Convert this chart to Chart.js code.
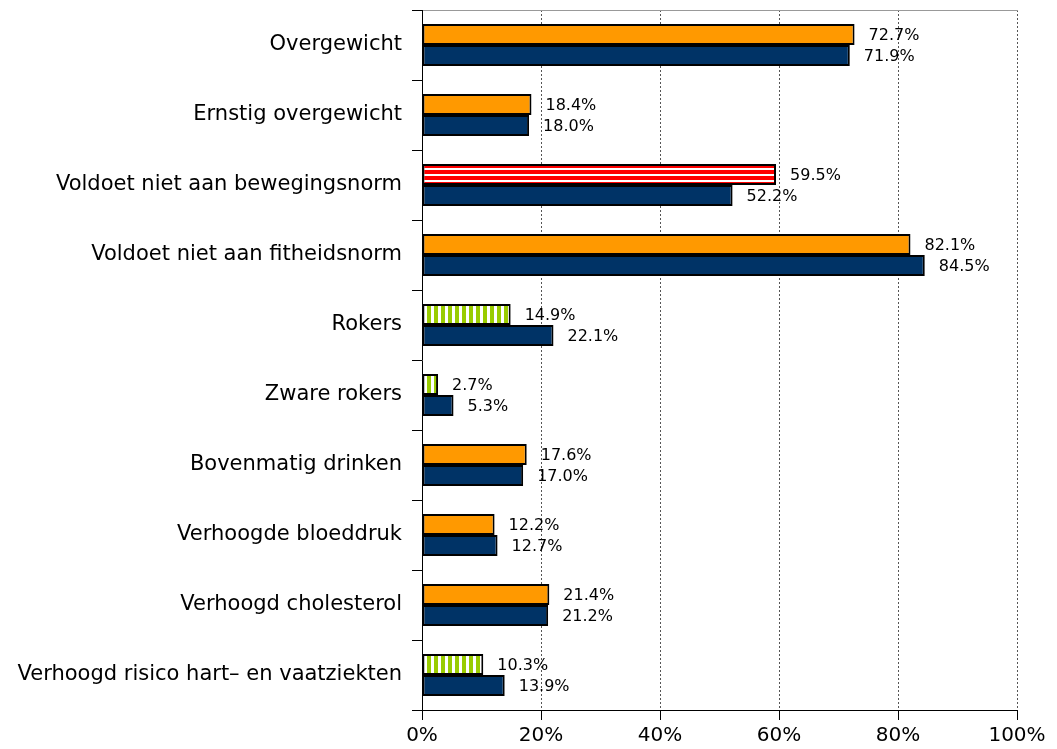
<!DOCTYPE html>
<html>
<head>
<meta charset="utf-8">
<script src="https://cdn.jsdelivr.net/npm/chart.js@4/dist/chart.umd.min.js"></script>
<style>
  html, body { margin: 0; padding: 0; background: #fff; }
  #wrap { width: 1057px; height: 749px; }
</style>
</head>
<body>
<div id="wrap"><canvas id="chart" width="1057" height="749"></canvas></div>
<script>
// Categories and values
var categories = [
  'Overgewicht',
  'Ernstig overgewicht',
  'Voldoet niet aan bewegingsnorm',
  'Voldoet niet aan fitheidsnorm',
  'Rokers',
  'Zware rokers',
  'Bovenmatig drinken',
  'Verhoogde bloeddruk',
  'Verhoogd cholesterol',
  'Verhoogd risico hart\u2013 en vaatziekten'
];
var topValues = [72.7, 18.4, 59.5, 82.1, 14.9, 2.7, 17.6, 12.2, 21.4, 10.3];
var bottomValues = [71.9, 18.0, 52.2, 84.5, 22.1, 5.3, 17.0, 12.7, 21.2, 13.9];
// fill style per top bar: 'plain', 'red' (horizontal stripes), 'green' (vertical stripes)
var topFills = ['plain', 'plain', 'red', 'plain', 'green', 'green', 'plain', 'plain', 'plain', 'green'];
var xTicks = [0, 20, 40, 60, 80, 100];

var FONT = 'Tahoma, "DejaVu Sans", sans-serif';

// Striped fills
function makePattern(w, h, draw) {
  var c = document.createElement('canvas');
  c.width = w; c.height = h;
  var g = c.getContext('2d');
  g.fillStyle = '#ffffff';
  g.fillRect(0, 0, w, h);
  draw(g);
  return document.getElementById('chart').getContext('2d').createPattern(c, 'repeat');
}
var redStripes = makePattern(6, 6, function (g) {
  g.fillStyle = '#ff0000';
  g.fillRect(0, 2, 6, 4);
});
var greenStripes = makePattern(7, 7, function (g) {
  g.fillStyle = '#99cc00';
  g.fillRect(0, 0, 4, 7);
});

var topColors = topFills.map(function (f) {
  if (f === 'red') return redStripes;
  if (f === 'green') return greenStripes;
  return '#ff9900';
});

// Value labels to the right of each bar
var valueLabels = {
  id: 'valueLabels',
  afterDatasetsDraw: function (chart) {
    var ctx = chart.ctx;
    ctx.save();
    ctx.font = '16px ' + FONT;
    ctx.fillStyle = '#000';
    ctx.textBaseline = 'middle';
    ctx.textAlign = 'left';
    chart.data.datasets.forEach(function (ds, i) {
      var meta = chart.getDatasetMeta(i);
      meta.data.forEach(function (bar, j) {
        ctx.fillText(ds.data[j].toFixed(1) + '%', bar.x + 14, bar.y + 1);
      });
    });
    ctx.restore();
  }
};

new Chart(document.getElementById('chart'), {
  type: 'bar',
  data: {
    labels: categories,
    datasets: [{
      data: topValues,
      backgroundColor: topColors,
      borderColor: '#000',
      borderWidth: 2,
      borderSkipped: false
    }, {
      data: bottomValues,
      backgroundColor: '#003366',
      borderColor: '#000',
      borderWidth: 2,
      borderSkipped: false
    }]
  },
  options: {
    indexAxis: 'y',
    responsive: false,
    animation: false,
    events: [],
    layout: { padding: { top: 0, right: 40, left: 0, bottom: 0 } },
    datasets: { bar: { categoryPercentage: 0.6, barPercentage: 1.0 } },
    plugins: { legend: { display: false }, tooltip: { enabled: false } },
    scales: {
      x: {
        min: 0,
        max: 100,
        afterBuildTicks: function (scale) {
          scale.ticks = xTicks.map(function (v) { return { value: v }; });
        },
        ticks: {
          color: '#000',
          font: { family: FONT, size: 20 },
          padding: 4,
          callback: function (v) { return v + '%'; }
        },
        grid: {
          color: function (c) { return c.tick && c.tick.value === 0 ? 'rgba(0,0,0,0)' : '#555'; },
          tickBorderDash: [],
          tickColor: '#000',
          tickLength: 10,
          lineWidth: 1
        },
        border: { display: true, color: '#000', width: 1, dash: [2, 2] },
        afterFit: function (scale) { scale.height = 39; }
      },
      x2: {
        position: 'top',
        min: 0,
        max: 100,
        ticks: { display: false },
        grid: { display: false },
        border: { display: true, color: '#999', width: 1 },
        afterFit: function (scale) { scale.height = 10; }
      },
      y: {
        ticks: {
          color: '#000',
          font: { family: FONT, size: 21 },
          padding: 10
        },
        grid: {
          drawOnChartArea: false,
          drawTicks: true,
          tickLength: 10,
          color: '#000',
          offset: true
        },
        border: { display: true, color: '#000', width: 1 },
        afterFit: function (scale) {
          scale.width = 422;
          scale.paddingTop = 0;
          scale.paddingBottom = 0;
        }
      }
    }
  },
  plugins: [valueLabels]
});
</script>
</body>
</html>
